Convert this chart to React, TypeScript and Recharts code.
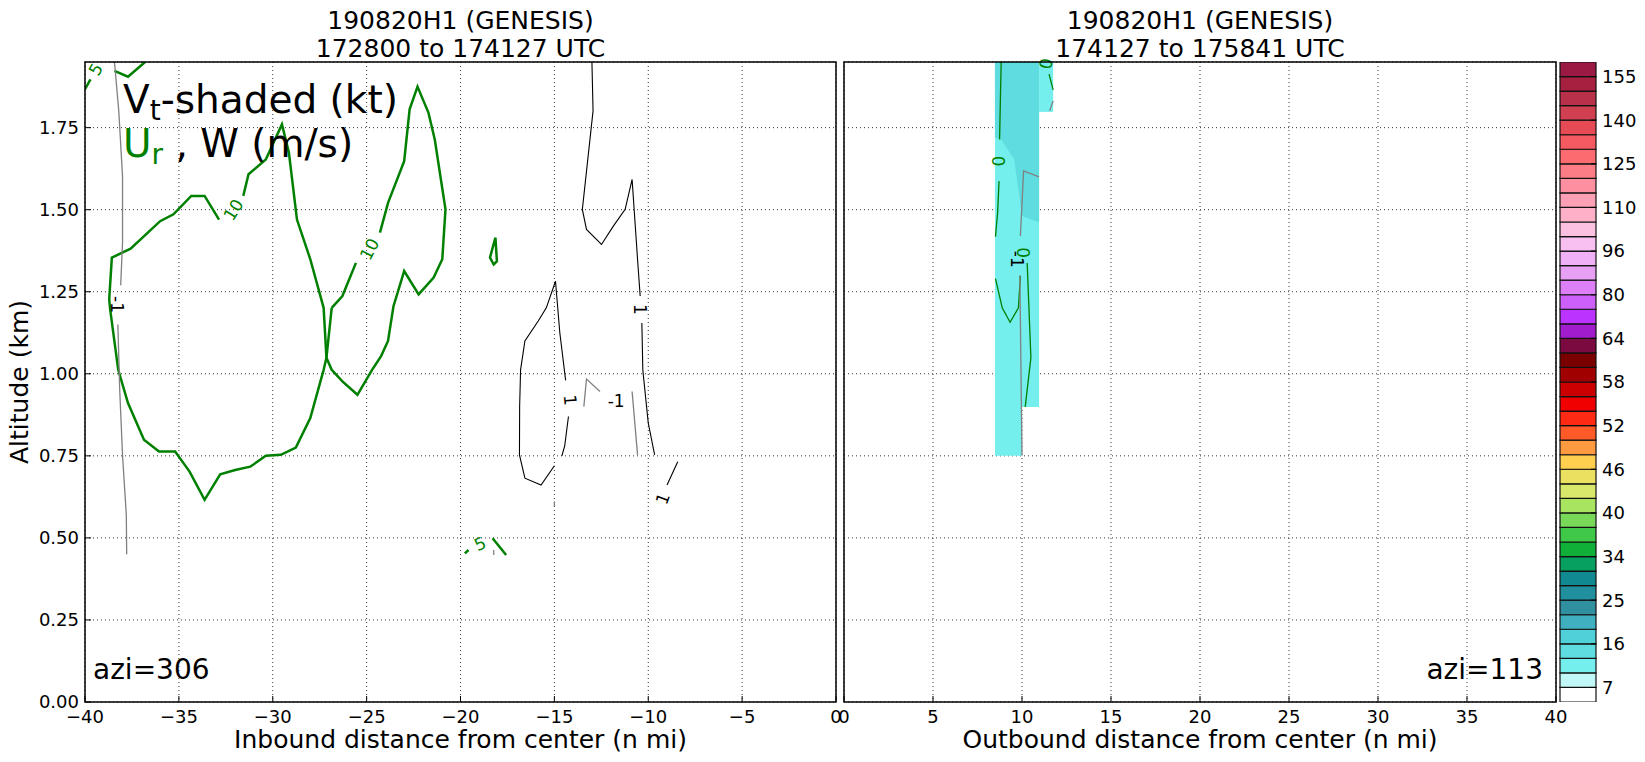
import React from 'react';
import {
  ComposedChart, Line, Area, XAxis, YAxis, CartesianGrid, ReferenceArea, ReferenceDot, BarChart, Bar,
} from 'recharts';

type Pt = { x: number; y: number };
const pts = (arr: number[][]): Pt[] => arr.map(([x, y]) => ({ x, y }));

// axes
const inboundTicks = [-40, -35, -30, -25, -20, -15, -10, -5, 0];
const outboundTicks = [0, 5, 10, 15, 20, 25, 30, 35, 40];
const altitudeTicks = [0, 0.25, 0.5, 0.75, 1.0, 1.25, 1.5, 1.75];
const altTop = 1.95;

// Ur contours (green), inbound leg
const urWestLoop = pts([
  [-32.86, 1.47], [-33.63, 1.542], [-34.34, 1.542], [-35.29, 1.486], [-36.0, 1.465], [-37.57, 1.381],
  [-38.57, 1.354], [-38.71, 1.227], [-38.66, 1.196], [-38.23, 1.012], [-37.71, 0.911], [-36.86, 0.799],
  [-36.06, 0.763], [-35.2, 0.763], [-34.43, 0.702], [-33.63, 0.616], [-32.8, 0.694], [-32.0, 0.707],
  [-31.2, 0.717], [-30.37, 0.75], [-29.57, 0.753], [-28.77, 0.775], [-28.0, 0.865], [-27.29, 1.012],
  [-27.14, 1.049], [-27.29, 1.201], [-28.0, 1.349], [-28.71, 1.47], [-29.14, 1.674], [-29.51, 1.76],
  [-30.37, 1.653], [-31.29, 1.608], [-31.57, 1.542],
]);
const urEastLoopA = pts([[-26.86, 1.201], [-26.29, 1.237], [-25.57, 1.338]]);
const urEastLoopB = pts([
  [-24.29, 1.43], [-23.86, 1.521], [-23.0, 1.648], [-22.71, 1.806], [-22.29, 1.875], [-21.71, 1.796],
  [-21.37, 1.714], [-20.8, 1.501], [-20.97, 1.349], [-21.43, 1.293], [-22.23, 1.242], [-23.0, 1.313],
  [-23.57, 1.206], [-23.86, 1.1], [-24.23, 1.054], [-24.71, 1.012], [-25.49, 0.936], [-26.29, 0.977],
  [-26.86, 1.012], [-27.14, 1.049], [-26.86, 1.201],
]);
const urFiveTopA = pts([[-40.0, 1.867], [-39.71, 1.897]]);
const urFiveTopB = pts([[-38.43, 1.923], [-37.71, 1.905], [-36.8, 1.95]]);
const urBlob = pts([[-18.14, 1.415], [-18.06, 1.343], [-18.23, 1.333], [-18.43, 1.354], [-18.14, 1.415]]);
const urFiveLowA = pts([[-19.77, 0.453], [-19.57, 0.463]]);
const urFiveLowB = pts([[-18.29, 0.499], [-17.57, 0.448]]);

// W contours, inbound leg
const wNegWestA = pts([[-38.43, 1.95], [-38.2, 1.8], [-38.0, 1.6], [-38.0, 1.4], [-38.1, 1.27]]);
const wNegWestB = pts([[-38.25, 1.15], [-38.15, 0.95], [-38.0, 0.75], [-37.8, 0.57], [-37.78, 0.45]]);
const wNegMidA = pts([[-13.43, 0.9], [-13.29, 0.984], [-12.57, 0.946]]);
const wNegMidB = pts([[-10.86, 0.946], [-10.57, 0.753]]);
const wNegBitA = pts([[-15.0, 0.611], [-15.0, 0.596]]);
const wNegBitB = pts([[-18.23, 0.463], [-18.23, 0.448]]);
const wPosOuterA = pts([
  [-13.0, 1.95], [-12.94, 1.801], [-13.51, 1.501], [-13.29, 1.44], [-12.49, 1.394], [-11.86, 1.45],
  [-11.23, 1.501], [-10.86, 1.592], [-10.57, 1.349], [-10.43, 1.237],
]);
const wPosOuterB = pts([[-10.34, 1.155], [-10.29, 1.012], [-10.0, 0.85], [-9.66, 0.753]]);
const wPosOuterC = pts([[-8.43, 0.732], [-9.0, 0.661]]);
const wPosInnerA = pts([
  [-15.0, 0.72], [-15.71, 0.661], [-16.57, 0.682], [-16.86, 0.753], [-16.85, 0.9], [-16.8, 1.012],
  [-16.57, 1.1], [-15.86, 1.161], [-15.43, 1.201], [-14.94, 1.282], [-14.71, 1.125], [-14.4, 0.98],
]);
const wPosInnerB = pts([[-14.25, 0.87], [-14.45, 0.78], [-14.6, 0.75]]);

// outbound leg
const vtLightCells = [
  { x1: 8.48, x2: 10.0, y1: 0.75, y2: altTop },
  { x1: 10.0, x2: 10.96, y1: 0.899, y2: altTop },
  { x1: 10.96, x2: 11.75, y1: 1.798, y2: altTop },
];
const vtDarkBand = [
  { x: 8.48, band: [1.72, altTop] },
  { x: 8.83, band: [1.714, altTop] },
  { x: 9.56, band: [1.653, altTop] },
  { x: 9.77, band: [1.572, altTop] },
  { x: 10.0, band: [1.481, altTop] },
  { x: 10.96, band: [1.462, altTop] },
];
const urOutA = pts([[8.83, 1.95], [8.74, 1.714]]);
const urOutB = pts([[8.71, 1.587], [8.63, 1.491], [8.51, 1.418]]);
const urOutC = pts([[8.51, 1.29], [8.89, 1.201], [9.33, 1.157], [9.8, 1.201], [9.91, 1.298]]);
const urOutD = pts([[10.29, 1.338], [10.5, 1.049], [10.18, 0.899]]);
const urOutE = pts([[11.52, 1.913], [11.75, 1.865]]);
const wOutA = pts([[10.0, 0.751], [9.94, 1.023], [9.88, 1.3]]);
const wOutB = pts([[9.91, 1.42], [10.09, 1.618], [10.96, 1.6]]);
const wOutC = pts([[11.55, 1.801], [11.75, 1.831]]);

type Lbl = { x: number; y: number; text: string; angle: number; color: string };
const inboundLabels: Lbl[] = [
  { x: -39.43, y: 1.928, text: '5', angle: -60, color: '#008000' },
  { x: -32.1, y: 1.5, text: '10', angle: -58, color: '#008000' },
  { x: -24.85, y: 1.38, text: '10', angle: -62, color: '#008000' },
  { x: -18.95, y: 0.482, text: '5', angle: -25, color: '#008000' },
  { x: -38.29, y: 1.211, text: '-1', angle: 90, color: '#000' },
  { x: -14.15, y: 0.92, text: '1', angle: 85, color: '#000' },
  { x: -10.45, y: 1.196, text: '1', angle: 90, color: '#000' },
  { x: -9.23, y: 0.62, text: '1', angle: -70, color: '#000' },
  { x: -11.71, y: 0.916, text: '-1', angle: 0, color: '#000' },
];
const outboundLabels: Lbl[] = [
  { x: 8.68, y: 1.648, text: '0', angle: 90, color: '#008000' },
  { x: 10.06, y: 1.369, text: '0', angle: 90, color: '#008000' },
  { x: 11.35, y: 1.945, text: '0', angle: -80, color: '#008000' },
  { x: 9.71, y: 1.349, text: '-1', angle: 90, color: '#000' },
];

// colour bar (bottom to top)
const cbColors = [
  '#ffffff', '#c0f8f8', '#75eeee', '#5edcdf', '#50d0d8', '#40b0c0', '#3090a0', '#20909e', '#108a90',
  '#08a060', '#10b038', '#40c848', '#78d858', '#a8e460', '#d8e86a', '#ece060', '#ffd050', '#ff9a40',
  '#ff5a28', '#ff2a14', '#f00000', '#cc0000', '#a00000', '#7a0000', '#7a0a40', '#a01ccc', '#bb33ff',
  '#cc60f8', '#dd80f8', '#e8a0f5', '#f0b0f5', '#f8c0f0', '#fcc0e0', '#fdb0c8', '#fea0b5', '#fd8fa0',
  '#fc7d85', '#fb6b70', '#f55a60', '#e54a55', '#d04050', '#b8304a', '#a8203f', '#9b1a44',
];
const cbLevels = [7, 16, 25, 34, 40, 46, 52, 58, 64, 80, 96, 110, 125, 140, 155];

const GREEN = '#008000';
const GRAY = '#808080';
const FONT = 'DejaVu Sans';

const inboundLines: { data: Pt[]; color: string; w: number }[] = [
  { data: urWestLoop, color: GREEN, w: 2.5 },
  { data: urEastLoopA, color: GREEN, w: 2.5 },
  { data: urEastLoopB, color: GREEN, w: 2.5 },
  { data: urFiveTopA, color: GREEN, w: 2.5 },
  { data: urFiveTopB, color: GREEN, w: 2.5 },
  { data: urBlob, color: GREEN, w: 2.5 },
  { data: urFiveLowA, color: GREEN, w: 2.5 },
  { data: urFiveLowB, color: GREEN, w: 2.5 },
  { data: wNegWestA, color: GRAY, w: 1.3 },
  { data: wNegWestB, color: GRAY, w: 1.3 },
  { data: wNegMidA, color: GRAY, w: 1.3 },
  { data: wNegMidB, color: GRAY, w: 1.3 },
  { data: wNegBitA, color: GRAY, w: 1.3 },
  { data: wNegBitB, color: GRAY, w: 1.3 },
  { data: wPosOuterA, color: '#000', w: 1.1 },
  { data: wPosOuterB, color: '#000', w: 1.1 },
  { data: wPosOuterC, color: '#000', w: 1.1 },
  { data: wPosInnerA, color: '#000', w: 1.1 },
  { data: wPosInnerB, color: '#000', w: 1.1 },
];
const outboundLines: { data: Pt[]; color: string; w: number }[] = [
  { data: urOutA, color: GREEN, w: 1.3 },
  { data: urOutB, color: GREEN, w: 1.3 },
  { data: urOutC, color: GREEN, w: 1.3 },
  { data: urOutD, color: GREEN, w: 1.3 },
  { data: urOutE, color: GREEN, w: 1.3 },
  { data: wOutA, color: GRAY, w: 1.3 },
  { data: wOutB, color: GRAY, w: 1.3 },
  { data: wOutC, color: GRAY, w: 1.3 },
];

const tickStyle = { fontSize: 18, fill: '#000', fontFamily: FONT };
const fmtX = (v: number) => String(v).replace('-', '\u2212');

function contourLines(list: { data: Pt[]; color: string; w: number }[], prefix: string) {
  return list.map((l, i) => (
    <Line
      key={prefix + i}
      data={l.data}
      dataKey="y"
      type="linear"
      stroke={l.color}
      strokeWidth={l.w}
      dot={false}
      activeDot={false}
      legendType="none"
      isAnimationActive={false}
    />
  ));
}

function contourLabels(list: Lbl[], prefix: string) {
  return list.map((l, i) => (
    <ReferenceDot
      key={prefix + i}
      x={l.x}
      y={l.y}
      r={0}
      fill="none"
      stroke="none"
      label={{ value: l.text, position: 'center', angle: l.angle, fill: l.color, fontSize: 17, fontFamily: FONT }}
    />
  ));
}

export default function App() {
  const cbRow: Record<string, any> = { name: 'cb' };
  cbColors.forEach((_, i) => { cbRow['s' + i] = 1; });
  const cbTickPos = cbLevels.map((_, i) => i * 3 + 1);

  return (
    <div style={{ position: 'absolute', left: 0, top: 0, width: 1645, height: 762, background: '#fff', fontFamily: FONT }}>
      <div style={{ position: 'absolute', left: 0, top: 0 }}>
        <ComposedChart width={856} height={762} margin={{ top: 62, right: 20, bottom: 30, left: 0 }}>
          <CartesianGrid stroke="#000" strokeDasharray="1 3" strokeWidth={0.8} />
          <XAxis type="number" dataKey="x" domain={[-40, 0]} ticks={inboundTicks} allowDataOverflow
            tickFormatter={fmtX} tick={tickStyle} tickSize={-6} tickMargin={14} height={30} axisLine={false} stroke="#000" />
          <YAxis type="number" domain={[0, altTop]} ticks={altitudeTicks} allowDataOverflow
            tickFormatter={(v: number) => v.toFixed(2)} tick={tickStyle} tickSize={-6} tickMargin={12} width={85} axisLine={false} stroke="#000" />
          {contourLines(inboundLines, 'in')}
          {contourLabels(inboundLabels, 'inl')}
        </ComposedChart>
      </div>

      <div style={{ position: 'absolute', left: 824, top: 0 }}>
        <ComposedChart width={752} height={762} data={vtDarkBand} margin={{ top: 62, right: 20, bottom: 30, left: 20 }}>
          <CartesianGrid stroke="#000" strokeDasharray="1 3" strokeWidth={0.8} />
          <XAxis type="number" dataKey="x" domain={[0, 40]} ticks={outboundTicks} allowDataOverflow
            tick={tickStyle} tickSize={-6} tickMargin={14} height={30} axisLine={false} stroke="#000" />
          <YAxis type="number" domain={[0, altTop]} ticks={altitudeTicks} allowDataOverflow hide />
          {vtLightCells.map((c, i) => (
            <ReferenceArea key={'c' + i} x1={c.x1} x2={c.x2} y1={c.y1} y2={c.y2} fill="#75eeee" fillOpacity={1} stroke="none" />
          ))}
          <Area dataKey="band" type="linear" stroke="none" fill="#5edcdf" fillOpacity={1} isAnimationActive={false} legendType="none" activeDot={false} />
          {contourLines(outboundLines, 'out')}
          {contourLabels(outboundLabels, 'outl')}
        </ComposedChart>
      </div>

      <div style={{ position: 'absolute', left: 1540, top: 0 }}>
        <BarChart width={105} height={762} data={[cbRow]} margin={{ top: 62, right: 0, bottom: 60, left: 20 }} barCategoryGap={0} barGap={0}>
          <XAxis dataKey="name" hide />
          <YAxis orientation="right" type="number" domain={[0, cbColors.length]} ticks={cbTickPos} allowDataOverflow
            tickFormatter={(v: number) => String(cbLevels[(v - 1) / 3])} tick={tickStyle} tickSize={-5} tickMargin={11}
            width={49} axisLine={false} stroke="#000" />
          {cbColors.map((c, i) => (
            <Bar key={'s' + i} dataKey={'s' + i} stackId="cb" fill={c} stroke="#111" strokeWidth={1.2} isAnimationActive={false} legendType="none" />
          ))}
        </BarChart>
      </div>

      <svg width={1645} height={762} style={{ position: 'absolute', left: 0, top: 0, pointerEvents: 'none' }} fontFamily={FONT}>
        <rect x={85} y={62} width={751} height={640} fill="none" stroke="#000" strokeWidth={1.5} />
        <rect x={844} y={62} width={712} height={640} fill="none" stroke="#000" strokeWidth={1.5} />
        <g fontSize={25} textAnchor="middle" fill="#000">
          <text x={460.5} y={29}>190820H1 (GENESIS)</text>
          <text x={460.5} y={57}>172800 to 174127 UTC</text>
          <text x={1200} y={29}>190820H1 (GENESIS)</text>
          <text x={1200} y={57}>174127 to 175841 UTC</text>
          <text x={460.5} y={748}>Inbound distance from center (n mi)</text>
          <text x={1200} y={748}>Outbound distance from center (n mi)</text>
          <text x={28} y={382} transform="rotate(-90, 28, 382)">Altitude (km)</text>
        </g>
        <text x={93} y={679} fontSize={28}>azi=306</text>
        <text x={1543} y={679} fontSize={28} textAnchor="end">azi=113</text>
        <text x={123} y={113} fontSize={39} fill="#000">
          V<tspan fontSize={28} dy={7}>t</tspan><tspan dy={-7}>-shaded (kt)</tspan>
        </text>
        <text x={123} y={157} fontSize={39} fill="#000">
          <tspan fill={GREEN}>U</tspan><tspan fill={GREEN} fontSize={28} dy={7}>r</tspan><tspan dy={-7}> , W (m/s)</tspan>
        </text>
      </svg>
    </div>
  );
}
